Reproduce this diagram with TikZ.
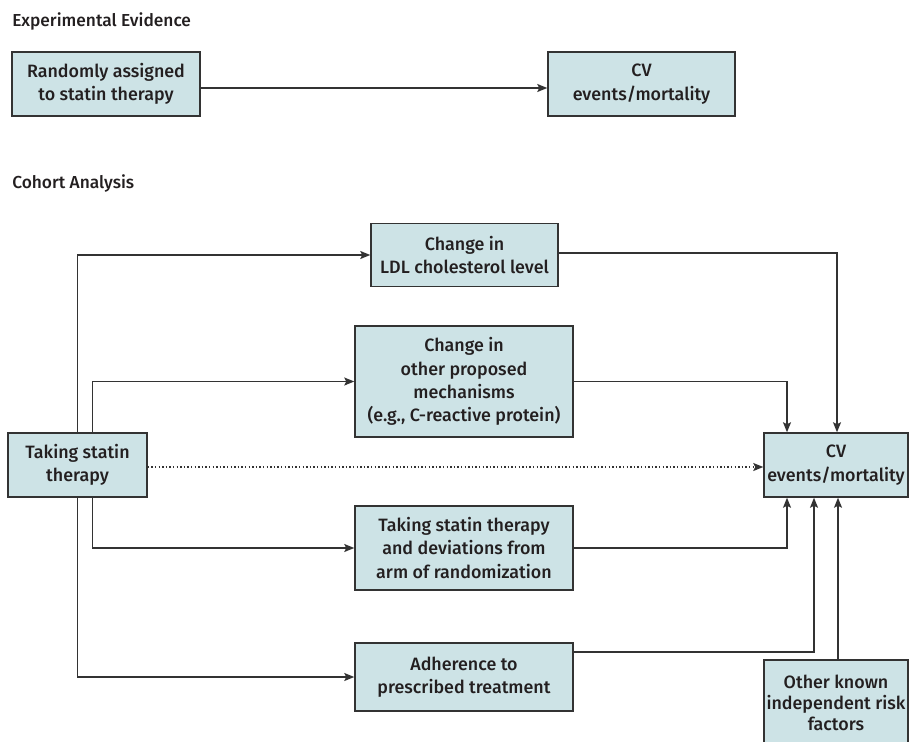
\documentclass[tikz,border=0pt]{standalone}
\usepackage{fontspec}
\setmainfont{Fira Sans Medium}
\usepackage{xcolor}
\usetikzlibrary{arrows.meta, positioning}

\definecolor{boxfill}{HTML}{CDE3E6}
\definecolor{edge}{HTML}{333333}
\definecolor{ink}{HTML}{231F20}

\begin{document}
\begin{tikzpicture}[x=0.75pt, y=-0.75pt]
    % Define styles
    \tikzstyle{heading} = [anchor=west, inner sep=0pt, font=\fontsize{13}{15}\selectfont, text=ink]
    \tikzstyle{box} = [rectangle, draw=edge, fill=boxfill, line width=1.1pt, align=center, inner sep=2pt, font=\fontsize{13.4}{17.5}\selectfont, text=ink]
    \tikzstyle{arrow} = [-{Stealth[length=7.5pt, width=6pt, inset=1.5pt]}, line width=1pt, draw=edge]

    \useasboundingbox (0,0) rectangle (910,742);

    % Experimental Evidence
    \node[heading] (exphead) at (12,21) {Experimental Evidence};
    \node[box, minimum width=141pt, minimum height=48pt] (random) at (106,84) {Randomly assigned\\to statin therapy};
    \node[box, minimum width=140.25pt, minimum height=48pt] (cvtrial) at (641.5,84) {CV\\events/mortality};

    % Cohort Analysis
    \node[heading] (cohhead) at (12,183) {Cohort Analysis};
    \node[box, minimum width=104.25pt, minimum height=48pt] (taking) at (77.5,465) {Taking statin\\therapy};
    \node[box, minimum width=140.25pt, minimum height=47.25pt] (ldl) at (464.5,255) {Change in\\LDL cholesterol level};
    \node[box, minimum width=163.5pt, minimum height=83.25pt] (mech) at (464,381.5) {Change in\\other proposed\\mechanisms\\(e.g., C-reactive protein)};
    \node[box, minimum width=163.5pt, minimum height=63pt] (deviate) at (464,548) {Taking statin therapy\\and deviations from\\arm of randomization};
    \node[box, minimum width=163.5pt, minimum height=51pt] (adhere) at (464,677) {Adherence to\\prescribed treatment};
    \node[box, minimum width=108pt, minimum height=48pt] (cvcohort) at (836,465) {CV\\events/mortality};
    \node[box, minimum width=108pt, minimum height=64.5pt, font=\fontsize{13.4}{15.5}\selectfont] (riskfac) at (836,703) {Other known\\independent risk\\factors};

    % Arrows
    \draw[arrow] ([yshift=-3pt]random.east) -- ([yshift=-3pt]cvtrial.west);
    \draw[arrow] (taking.north) |- (ldl.west);
    \draw[arrow] ([xshift=11pt]taking.north) |- (mech.west);
    \draw[arrow] ([xshift=11pt]taking.south) |- (deviate.west);
    \draw[arrow] (taking.south) |- (adhere.west);
    \draw[arrow, dash pattern=on 1.1pt off 1.6pt] ([yshift=-1.5pt]taking.east) -- ([yshift=-1.5pt]cvcohort.west);
    \draw[arrow] ([yshift=1.5pt]ldl.east) -| ([xshift=0.75pt]cvcohort.north);
    \draw[arrow] (mech.east) -| ([xshift=-36.75pt]cvcohort.north);
    \draw[arrow] (deviate.east) -| ([xshift=-36.75pt]cvcohort.south);
    \draw[arrow] ([yshift=18.75pt]adhere.east) -| ([xshift=-16.5pt]cvcohort.south);
    \draw[arrow] ([xshift=1.5pt]riskfac.north) -- ([xshift=1.5pt]cvcohort.south);

\end{tikzpicture}
\end{document}
